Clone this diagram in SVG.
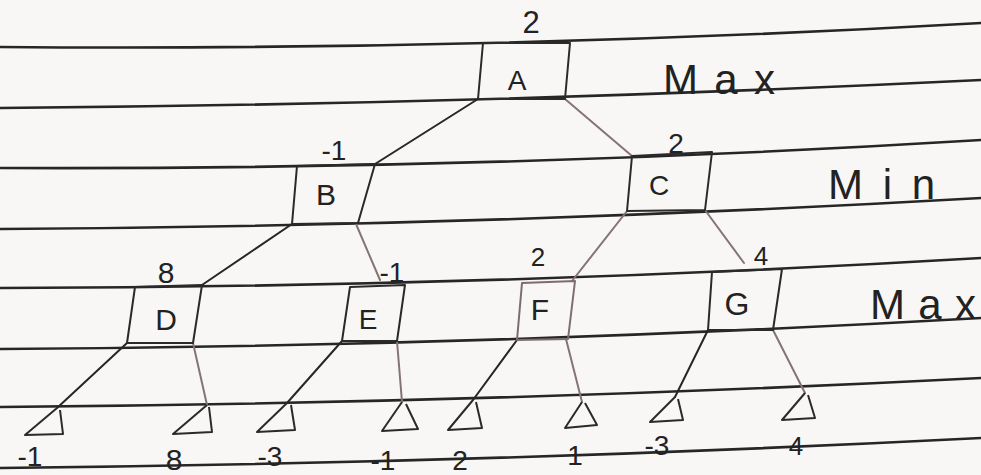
<svg xmlns="http://www.w3.org/2000/svg" width="981" height="475" viewBox="0 0 981 475">
<style>
.rule{fill:none;stroke:#262626;stroke-width:2.6;stroke-linecap:round}
.box{fill:none;stroke:#2a2a2a;stroke-width:2;stroke-linejoin:round}
.boxl{fill:none;stroke:#7d6d6f;stroke-width:2;stroke-linejoin:round}
.dark{fill:none;stroke:#262626;stroke-width:2;stroke-linecap:round}
.light{fill:none;stroke:#857476;stroke-width:2;stroke-linecap:round}
.leaf{fill:none;stroke:#2a2a2a;stroke-width:2;stroke-linejoin:round}
text{font-family:"Liberation Sans","DejaVu Sans",sans-serif;fill:#222;text-anchor:middle}
.lbl{font-size:28px}
.val{font-size:28px}
.lvl{font-size:42px;text-anchor:start}
</style>
<rect width="981" height="475" fill="#f8f7f5"/>
<g id="paper">
<path class="rule" d="M0,47 Q490,51 981,23"/>
<path class="rule" d="M0,108 Q490,104 981,80"/>
<path class="rule" d="M0,168 Q490,170 981,140"/>
<path class="rule" d="M0,229 Q490,226 981,198"/>
<path class="rule" d="M0,288 Q490,287 981,258"/>
<path class="rule" d="M0,349 Q490,346 981,318"/>
<path class="rule" d="M0,407 Q490,403 981,378"/>
<path class="rule" d="M0,468 Q490,463 981,438"/>
</g>
<g id="connectors">
<line class="dark" x1="478" y1="99" x2="375" y2="164"/>
<line class="light" x1="565" y1="99" x2="632" y2="156"/>
<line class="dark" x1="292" y1="224" x2="202" y2="285"/>
<line class="light" x1="356" y1="224" x2="380" y2="280"/>
<line class="light" x1="627" y1="211" x2="572" y2="281"/>
<line class="light" x1="705" y1="210" x2="744" y2="263"/>
<line class="dark" x1="127" y1="343" x2="57" y2="408"/>
<line class="light" x1="193" y1="343" x2="207" y2="405"/>
<line class="dark" x1="342" y1="341" x2="287" y2="403"/>
<line class="light" x1="397" y1="341" x2="402" y2="402"/>
<line class="dark" x1="517" y1="340" x2="473" y2="400"/>
<line class="light" x1="566" y1="339" x2="582" y2="402"/>
<line class="dark" x1="708" y1="330" x2="675" y2="397"/>
<line class="light" x1="773" y1="330" x2="805" y2="393"/>
</g>
<g id="nodeA">
<polygon class="box" points="483,43 570,43 565,99 478,99"/>
<text class="lbl" x="517" y="90">A</text>
<text class="val" x="531" y="33" style="font-size:31px">2</text>
</g>
<g id="nodeB">
<polygon class="box" points="297,166 375,164 358,223 292,224"/>
<text class="lbl" x="326" y="205" style="font-size:30px">B</text>
<text class="val" x="334" y="160">-1</text>
</g>
<g id="nodeC">
<polygon class="box" points="632,156 712,152 705,210 627,211"/>
<text class="lbl" x="659" y="195">C</text>
<text class="val" x="676" y="153">2</text>
</g>
<g id="nodeD">
<polygon class="box" points="135,287 202,285 193,343 127,343"/>
<text class="lbl" x="166" y="330" style="font-size:30px">D</text>
<text class="val" x="166" y="283" style="font-size:30px">8</text>
</g>
<g id="nodeE">
<polygon class="box" points="350,287 405,285 397,341 342,341"/>
<text class="lbl" x="368" y="329">E</text>
<text class="val" x="392" y="282">-1</text>
</g>
<g id="nodeF">
<polygon class="boxl" points="522,283 575,281 568,339 517,340"/>
<text class="lbl" x="540" y="320" style="font-size:30px">F</text>
<text class="val" x="538" y="266" style="font-size:26px">2</text>
</g>
<g id="nodeG">
<polygon class="box" points="712,272 782,269 773,330 708,330"/>
<text class="lbl" x="737" y="315" style="font-size:32px">G</text>
<text class="val" x="761" y="265" style="font-size:26px">4</text>
</g>
<g id="leaf1"><path class="leaf" d="M57,408 L25,435 L63,434 L60,410"/><text class="val" x="30" y="466">-1</text></g>
<g id="leaf2"><path class="leaf" d="M207,405 L173,434 L212,432 L209,407"/><text class="val" x="174" y="470" style="font-size:30px">8</text></g>
<g id="leaf3"><path class="leaf" d="M287,403 L257,432 L295,430 L291,405"/><text class="val" x="270" y="466">-3</text></g>
<g id="leaf4"><path class="leaf" d="M402,402 L382,431 L418,429 L406,404"/><text class="val" x="383" y="470">-1</text></g>
<g id="leaf5"><path class="leaf" d="M473,400 L448,430 L482,428 L476,402"/><text class="val" x="460" y="470">2</text></g>
<g id="leaf6"><path class="leaf" d="M582,402 L565,428 L597,425 L585,403"/><text class="val" x="575" y="465">1</text></g>
<g id="leaf7"><path class="leaf" d="M675,397 L650,422 L683,420 L678,399"/><text class="val" x="657" y="455">-3</text></g>
<g id="leaf8"><path class="leaf" d="M805,393 L782,420 L815,418 L808,395"/><text class="val" x="796" y="455" style="font-size:26px">4</text></g>
<g id="levels">
<text class="lvl" x="663" y="94" textLength="112" lengthAdjust="spacing">Max</text>
<text class="lvl" x="828" y="199" textLength="107" lengthAdjust="spacing">Min</text>
<text class="lvl" x="870" y="319" textLength="106" lengthAdjust="spacing">Max</text>
</g>
</svg>
